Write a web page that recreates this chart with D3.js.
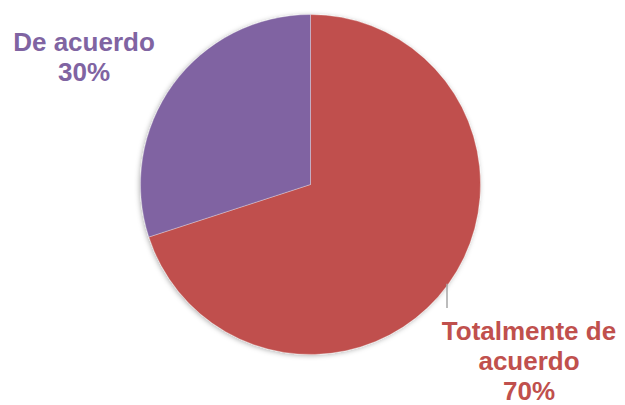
<!DOCTYPE html>
<html>
<head>
<meta charset="utf-8">
<script src="https://cdn.jsdelivr.net/npm/d3@7"></script>
<style>
  html, body { margin: 0; padding: 0; background: #fff; }
  svg { display: block; }
</style>
</head>
<body>
<svg id="chart" width="625" height="405"></svg>
<script>
// Survey answers and their shares
const categories = ["Totalmente de acuerdo", "De acuerdo"];
const values = [70, 30];
const labelLines = [["Totalmente de", "acuerdo", "70%"], ["De acuerdo", "30%"]];
const colors = ["#C0504D", "#8064A2"];

const svg = d3.select("#chart");
const cx = 310.5, cy = 184.5, r = 170;

const defs = svg.append("defs");
const f = defs.append("filter").attr("id", "shadow")
  .attr("x", "-10%").attr("y", "-10%").attr("width", "120%").attr("height", "120%");
f.append("feDropShadow").attr("dx", -1).attr("dy", 1)
  .attr("stdDeviation", 2.5).attr("flood-color", "#000").attr("flood-opacity", 0.3);

const pie = d3.pie().sort(null).value(d => d);
const arcs = pie(values);
const arc = d3.arc().innerRadius(0).outerRadius(r);

const g = svg.append("g").attr("transform", `translate(${cx},${cy})`);
g.append("g").attr("filter", "url(#shadow)")
  .selectAll("path").data(arcs).join("path")
  .attr("d", arc)
  .attr("fill", (d, i) => colors[i])
  .attr("stroke", "#fff")
  .attr("stroke-opacity", 0.5)
  .attr("stroke-width", 0.6);

// Label positions (text block centres, first baseline)
const labelPos = [{ x: 529, y: 340 }, { x: 84, y: 51 }];
const lineH = 30;

// Leader line for the large slice
const lx = 447;
const ly0 = cy + Math.sqrt(r * r - (lx - cx) * (lx - cx));
svg.append("line")
  .attr("x1", lx).attr("x2", lx)
  .attr("y1", ly0 - 2).attr("y2", 308)
  .attr("stroke", "#A6A6A6").attr("stroke-width", 1.5);

categories.forEach((c, i) => {
  const t = svg.append("text")
    .attr("text-anchor", "middle")
    .attr("font-family", "Liberation Sans, Arial, sans-serif")
    .attr("font-weight", "bold")
    .attr("font-size", 26)
    .attr("fill", colors[i]);
  labelLines[i].forEach((ln, j) => {
    t.append("tspan")
      .attr("x", labelPos[i].x)
      .attr("y", labelPos[i].y + j * lineH)
      .text(ln);
  });
});
</script>
</body>
</html>
